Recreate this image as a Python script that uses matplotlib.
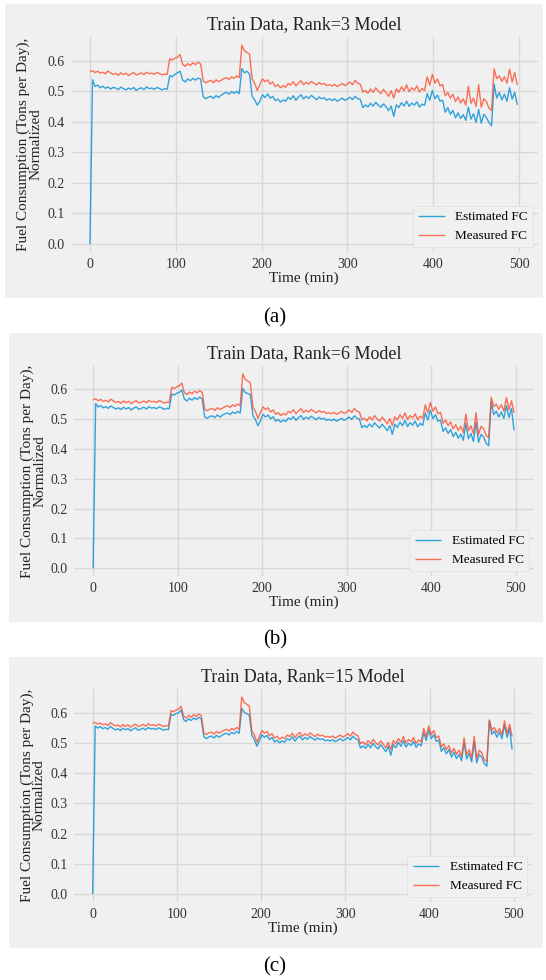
import numpy as np
import matplotlib
matplotlib.use('Agg')
import matplotlib.pyplot as plt
from matplotlib.patches import Rectangle

# time axis (minutes), one sample every 3 min
time_min = np.arange(0, 500, 3)

# measured fuel consumption (same in all three panels)
measured_fc = [
    0.565, 0.568, 0.562, 0.566, 0.560, 0.563, 0.558, 0.567, 0.561, 0.556,
    0.559, 0.553, 0.561, 0.555, 0.560, 0.552, 0.558, 0.562, 0.554, 0.557,
    0.561, 0.555, 0.563, 0.558, 0.560, 0.556, 0.562, 0.559, 0.554, 0.557,
    0.556, 0.607, 0.603, 0.609, 0.612, 0.621, 0.589, 0.582, 0.591, 0.585,
    0.594, 0.588, 0.596, 0.590, 0.534, 0.528, 0.533, 0.536, 0.529, 0.538,
    0.532, 0.537, 0.542, 0.545, 0.539, 0.548, 0.543, 0.551, 0.545, 0.652,
    0.633, 0.628, 0.622, 0.541, 0.526, 0.503, 0.522, 0.541, 0.532, 0.538,
    0.524, 0.531, 0.516, 0.522, 0.512, 0.519, 0.514, 0.526, 0.521, 0.532,
    0.518, 0.528, 0.535, 0.522, 0.530, 0.524, 0.533, 0.527, 0.521, 0.529,
    0.523, 0.526, 0.519, 0.522, 0.518, 0.523, 0.516, 0.521, 0.526, 0.519,
    0.524, 0.531, 0.522, 0.536, 0.527, 0.524, 0.498, 0.503, 0.494, 0.508,
    0.497, 0.512, 0.501, 0.493, 0.507, 0.496, 0.484, 0.502, 0.478, 0.508,
    0.497, 0.515, 0.502, 0.521, 0.499, 0.512, 0.504, 0.518, 0.498, 0.510,
    0.503, 0.548, 0.521, 0.556, 0.527, 0.541, 0.518, 0.523, 0.486, 0.497,
    0.478, 0.491, 0.467, 0.482, 0.462, 0.476, 0.455, 0.517, 0.461, 0.478,
    0.451, 0.522, 0.448, 0.476, 0.467, 0.445, 0.438, 0.574, 0.542, 0.551,
    0.533, 0.548, 0.527, 0.573, 0.531, 0.562, 0.521,
]

# estimated FC, rank=3 model
est_rank3 = [
    0.000, 0.538, 0.516, 0.521, 0.512, 0.517, 0.510, 0.515, 0.508, 0.513,
    0.511, 0.506, 0.514, 0.509, 0.505, 0.511, 0.507, 0.513, 0.503, 0.509,
    0.512, 0.506, 0.515, 0.509, 0.511, 0.507, 0.513, 0.510, 0.505, 0.509,
    0.507, 0.552, 0.548, 0.556, 0.561, 0.566, 0.538, 0.531, 0.541, 0.535,
    0.543, 0.537, 0.544, 0.540, 0.482, 0.476, 0.481, 0.484, 0.477, 0.486,
    0.480, 0.488, 0.493, 0.497, 0.491, 0.499, 0.494, 0.500, 0.493, 0.575,
    0.561, 0.566, 0.557, 0.484, 0.472, 0.455, 0.468, 0.489, 0.480, 0.492,
    0.478, 0.484, 0.470, 0.475, 0.465, 0.472, 0.468, 0.481, 0.474, 0.486,
    0.471, 0.482, 0.489, 0.475, 0.484, 0.477, 0.487, 0.480, 0.473, 0.482,
    0.476, 0.479, 0.471, 0.476, 0.470, 0.476, 0.468, 0.473, 0.478, 0.471,
    0.475, 0.481, 0.473, 0.484, 0.476, 0.474, 0.447, 0.456, 0.449, 0.461,
    0.452, 0.464, 0.455, 0.448, 0.459, 0.450, 0.437, 0.452, 0.418, 0.456,
    0.447, 0.463, 0.452, 0.468, 0.451, 0.462, 0.455, 0.466, 0.449, 0.458,
    0.455, 0.492, 0.471, 0.503, 0.476, 0.488, 0.468, 0.471, 0.432, 0.447,
    0.425, 0.438, 0.413, 0.430, 0.411, 0.424, 0.405, 0.448, 0.409, 0.427,
    0.398, 0.441, 0.396, 0.425, 0.414, 0.398, 0.388, 0.524, 0.478, 0.497,
    0.472, 0.491, 0.468, 0.512, 0.475, 0.497, 0.456,
]

# estimated FC, rank=6 model
est_rank6 = [
    0.000, 0.552, 0.541, 0.545, 0.538, 0.542, 0.536, 0.544, 0.539, 0.534,
    0.538, 0.532, 0.540, 0.534, 0.539, 0.531, 0.537, 0.541, 0.533, 0.536,
    0.540, 0.534, 0.542, 0.537, 0.539, 0.535, 0.541, 0.538, 0.533, 0.536,
    0.535, 0.584, 0.581, 0.587, 0.590, 0.597, 0.567, 0.561, 0.570, 0.564,
    0.572, 0.566, 0.574, 0.568, 0.508, 0.503, 0.509, 0.511, 0.505, 0.514,
    0.507, 0.513, 0.518, 0.521, 0.515, 0.524, 0.519, 0.526, 0.520, 0.603,
    0.589, 0.586, 0.582, 0.512, 0.499, 0.478, 0.495, 0.516, 0.507, 0.514,
    0.501, 0.508, 0.493, 0.499, 0.490, 0.497, 0.492, 0.504, 0.499, 0.509,
    0.496, 0.505, 0.512, 0.499, 0.507, 0.501, 0.510, 0.504, 0.498, 0.506,
    0.500, 0.503, 0.496, 0.499, 0.495, 0.500, 0.493, 0.498, 0.503, 0.496,
    0.501, 0.507, 0.499, 0.511, 0.503, 0.501, 0.471, 0.479, 0.472, 0.484,
    0.474, 0.488, 0.478, 0.470, 0.483, 0.473, 0.461, 0.478, 0.449, 0.483,
    0.472, 0.490, 0.478, 0.496, 0.475, 0.488, 0.480, 0.493, 0.474, 0.486,
    0.479, 0.521, 0.497, 0.530, 0.502, 0.515, 0.493, 0.497, 0.459, 0.471,
    0.452, 0.465, 0.441, 0.456, 0.436, 0.450, 0.429, 0.486, 0.434, 0.452,
    0.425, 0.490, 0.422, 0.449, 0.440, 0.419, 0.411, 0.558, 0.515, 0.527,
    0.507, 0.524, 0.502, 0.545, 0.505, 0.536, 0.462,
]

# estimated FC, rank=15 model
est_rank15 = [
    0.000, 0.556, 0.549, 0.554, 0.547, 0.551, 0.545, 0.555, 0.548, 0.543,
    0.547, 0.541, 0.549, 0.543, 0.548, 0.540, 0.546, 0.550, 0.542, 0.545,
    0.549, 0.543, 0.551, 0.546, 0.548, 0.544, 0.550, 0.547, 0.542, 0.545,
    0.544, 0.595, 0.591, 0.597, 0.600, 0.609, 0.577, 0.571, 0.580, 0.574,
    0.583, 0.577, 0.585, 0.579, 0.520, 0.514, 0.520, 0.523, 0.516, 0.525,
    0.519, 0.524, 0.529, 0.532, 0.526, 0.535, 0.530, 0.538, 0.532, 0.614,
    0.601, 0.597, 0.592, 0.525, 0.511, 0.489, 0.508, 0.527, 0.518, 0.525,
    0.511, 0.518, 0.503, 0.509, 0.500, 0.507, 0.502, 0.514, 0.509, 0.520,
    0.506, 0.516, 0.523, 0.510, 0.518, 0.512, 0.521, 0.515, 0.509, 0.517,
    0.511, 0.514, 0.507, 0.510, 0.506, 0.511, 0.504, 0.509, 0.514, 0.507,
    0.512, 0.518, 0.510, 0.522, 0.514, 0.511, 0.483, 0.490, 0.482, 0.495,
    0.484, 0.499, 0.488, 0.480, 0.494, 0.483, 0.471, 0.489, 0.459, 0.495,
    0.484, 0.502, 0.489, 0.508, 0.486, 0.499, 0.491, 0.505, 0.485, 0.497,
    0.490, 0.534, 0.508, 0.542, 0.514, 0.527, 0.505, 0.510, 0.472, 0.484,
    0.464, 0.478, 0.453, 0.469, 0.448, 0.462, 0.441, 0.501, 0.447, 0.465,
    0.437, 0.505, 0.434, 0.462, 0.453, 0.431, 0.423, 0.576, 0.528, 0.539,
    0.519, 0.536, 0.514, 0.560, 0.518, 0.549, 0.478,
]

ranks = [3, 6, 15]
estimates = [est_rank3, est_rank6, est_rank15]
captions = ['(a)', '(b)', '(c)']

# layout in pixels (x0, y0, x1, y1) measured from top-left
W, H = 546, 980
panel_boxes = [(5, 4, 543, 298), (9, 333, 543, 622), (9, 657, 543, 948)]
axes_boxes = [(68.5, 35, 539.6, 254), (72, 364, 536, 578), (71.6, 687, 534, 904)]
caption_y = [318, 640, 967]

plt.style.use('fivethirtyeight')
plt.rcParams['font.family'] = ['Liberation Serif', 'DejaVu Serif']
plt.rcParams['axes.facecolor'] = '#f0f0f0'
plt.rcParams['grid.color'] = '#d8d8d8'
plt.rcParams['grid.linewidth'] = 1.0

fig = plt.figure(figsize=(W / 100, H / 100), dpi=100, facecolor='white')

for i in range(3):
    x0, y0, x1, y1 = panel_boxes[i]
    fig.patches.append(Rectangle((x0 / W, 1 - y1 / H), (x1 - x0) / W, (y1 - y0) / H,
                                 transform=fig.transFigure, facecolor='#f0f0f0',
                                 edgecolor='none', zorder=-10))
    l, t, r, b = axes_boxes[i]
    ax = fig.add_axes([l / W, 1 - b / H, (r - l) / W, (b - t) / H])
    ax.plot(time_min, estimates[i], color='#008fd5', lw=1.0, alpha=0.8, label='Estimated FC')
    ax.plot(time_min, measured_fc, color='#fc4f30', lw=1.0, alpha=0.8, label='Measured FC')
    ax.set_xlim(-25, 524)
    ax.set_ylim(-0.033, 0.685)
    ax.set_xticks([0, 100, 200, 300, 400, 500])
    ax.set_yticks([0.0, 0.1, 0.2, 0.3, 0.4, 0.5, 0.6])
    ax.tick_params(labelsize=10, length=0, pad=3, colors='#333333')
    ax.set_title('Train Data, Rank=%d Model' % ranks[i], fontsize=13, pad=4, color='#222222')
    ax.set_xlabel('Time (min)', fontsize=11, labelpad=0, color='#222222')
    ax.set_ylabel('Fuel Consumption (Tons per Day),\nNormalized', fontsize=11,
                  labelpad=3, color='#222222', linespacing=0.95)
    ax.legend(loc='lower right', fontsize=9.5, frameon=True, facecolor='#f0f0f0',
              edgecolor='#e0e0e0', framealpha=1.0, handlelength=2.0, handletextpad=0.8)
    fig.text(275 / W, 1 - caption_y[i] / H, captions[i], fontsize=15,
             ha='center', va='center', color='black')

fig.savefig('out.png', dpi=100, facecolor='white')
